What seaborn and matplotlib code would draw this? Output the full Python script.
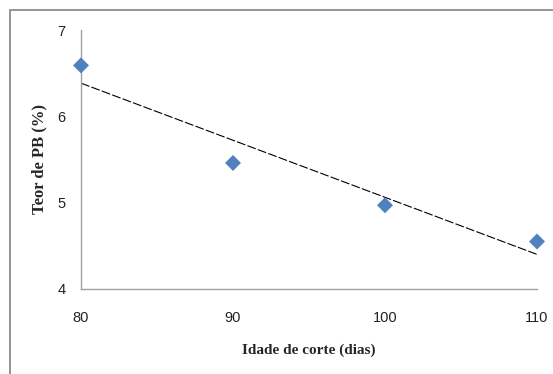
import matplotlib
matplotlib.use("Agg")
import matplotlib.pyplot as plt
import seaborn as sns
import pandas as pd
from matplotlib.patches import Rectangle

idade = [80, 90, 100, 110]
teor_pb = [6.59, 5.46, 4.97, 4.55]
x_ticks = [80, 90, 100, 110]
y_ticks = [4, 5, 6, 7]

df = pd.DataFrame({"idade": idade, "teor": teor_pb})

sns.set_style("white")
plt.rcParams['font.family'] = ['Liberation Sans', 'DejaVu Sans']

fig = plt.figure(figsize=(5.53, 3.74), dpi=100)
ax = fig.add_axes([81/553, 1-289/374, (537-81)/553, (289-30)/374])

# outer frame
fig.patches.append(Rectangle((10/553, -0.05), 1.2, 1-10/374+0.05, transform=fig.transFigure,
                             fill=False, edgecolor='#8c8c8c', linewidth=1.3, zorder=0))

sns.regplot(data=df, x="idade", y="teor", ax=ax, scatter=False, ci=None,
            line_kws=dict(color='black', linewidth=0.8, linestyle=(0, (8, 2))))
sns.scatterplot(data=df, x="idade", y="teor", ax=ax, marker='D', s=66,
                color='#4F81BD', edgecolor='none', zorder=3, clip_on=False)

ax.set_xlim(80, 110)
ax.set_ylim(4, 7)
ax.set_xticks(x_ticks)
ax.set_yticks(y_ticks)
ax.tick_params(axis='both', length=0, labelsize=10.5, colors='#222222')
ax.tick_params(axis='x', pad=16)
ax.tick_params(axis='y', pad=11)
for s in ['top', 'right']:
    ax.spines[s].set_visible(False)
for s in ['left', 'bottom']:
    ax.spines[s].set_color('#a0a0a0')
    ax.spines[s].set_linewidth(1.0)

ax.set_xlabel("Idade de corte (dias)", fontfamily='Liberation Serif', fontweight='bold',
              fontsize=11, labelpad=13)
ax.set_ylabel("Teor de PB (%)", fontfamily='Liberation Serif', fontweight='bold',
              fontsize=12, labelpad=7)

fig.savefig("out.png", dpi=100)
